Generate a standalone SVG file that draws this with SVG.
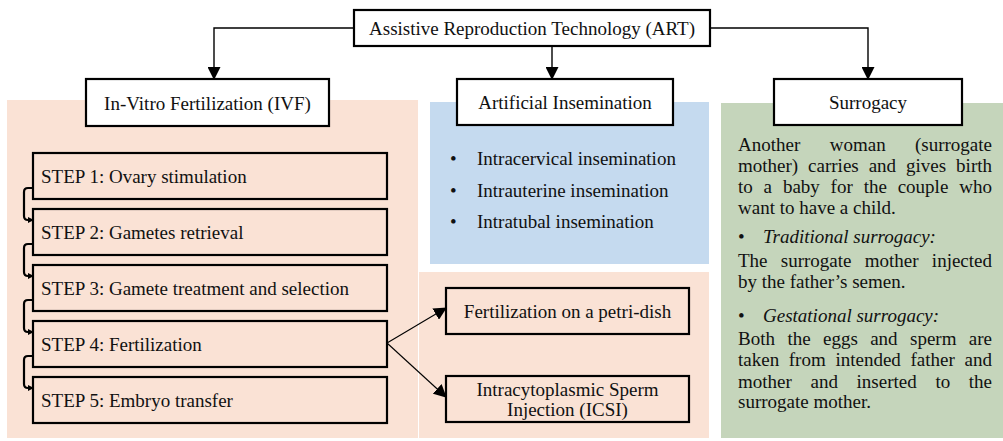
<svg xmlns="http://www.w3.org/2000/svg" width="1003" height="441" viewBox="0 0 1003 441">
<style>
text{font-family:"Liberation Serif","Times New Roman",serif;font-size:19px;fill:#111}
.c{text-anchor:middle}
.e{text-anchor:end}
.i{font-style:italic}
.b{font-size:19px}
.box{fill:#fff;stroke:#000;stroke-width:2.2}
.sbox{fill:none;stroke:#000;stroke-width:2.2}
.ln{fill:none;stroke:#000;stroke-width:1.4}
.st{fill:none;stroke:#000;stroke-width:2.2}
</style>
<defs>
<marker id="ah" markerWidth="13" markerHeight="13" refX="12" refY="6.5" orient="auto" markerUnits="userSpaceOnUse">
<path d="M0,0 L13,6.5 L0,13 Z" fill="#000"/>
</marker>
<marker id="sm" markerWidth="6" markerHeight="6" refX="5" refY="3" orient="auto" markerUnits="userSpaceOnUse">
<path d="M0,0 L6,3 L0,6 Z" fill="#000"/>
</marker>
</defs>
<g id="panels">
<rect x="7" y="100" width="411" height="338" fill="#FAE2D5"/>
<rect x="430" y="102" width="279" height="162" fill="#C5DAEF"/>
<rect x="419" y="272" width="290" height="166" fill="#FAE2D5"/>
<rect x="721" y="103" width="282" height="335" fill="#C5D5BB"/>
</g>
<g id="connectors">
<path class="ln" d="M354,28 H214 V79" marker-end="url(#ah)"/>
<path class="ln" d="M552,46 V79" marker-end="url(#ah)"/>
<path class="ln" d="M710,28 H868 V79" marker-end="url(#ah)"/>
<path class="st" d="M33,188 H28 Q24,188 24,192 V216 Q24,220 28,220 H33" marker-end="url(#sm)"/>
<path class="st" d="M33,244 H28 Q24,244 24,248 V272 Q24,276 28,276 H33" marker-end="url(#sm)"/>
<path class="st" d="M33,300 H28 Q24,300 24,304 V328 Q24,332 28,332 H33" marker-end="url(#sm)"/>
<path class="st" d="M33,356 H28 Q24,356 24,360 V384 Q24,388 28,388 H33" marker-end="url(#sm)"/>
<path class="ln" d="M387,343 L446,308" marker-end="url(#ah)" style="stroke-width:1.1"/>
<path class="ln" d="M387,343 L446,397" marker-end="url(#ah)" style="stroke-width:1.1"/>
</g>
<g id="art">
<rect class="box" x="354" y="10" width="356" height="36"/>
<text class="c" x="532" y="34.5">Assistive Reproduction Technology (ART)</text>
</g>
<g id="ivf">
<rect class="box" x="86" y="79" width="243" height="47"/>
<text class="c" x="207.5" y="109.5">In-Vitro Fertilization (IVF)</text>
</g>
<g id="ai">
<rect class="box" x="457" y="79" width="216" height="46"/>
<text class="c" x="565" y="109">Artificial Insemination</text>
</g>
<g id="surrogacy">
<rect class="box" x="774" y="79" width="188" height="46"/>
<text class="c" x="868" y="109">Surrogacy</text>
</g>
<g id="step1">
<rect class="sbox" x="33" y="153" width="354" height="46"/>
<text x="41" y="182.5">STEP 1: Ovary stimulation</text>
</g>
<g id="step2">
<rect class="sbox" x="33" y="209" width="354" height="46"/>
<text x="41" y="238.5">STEP 2: Gametes retrieval</text>
</g>
<g id="step3">
<rect class="sbox" x="33" y="265" width="354" height="46"/>
<text x="41" y="294.5">STEP 3: Gamete treatment and selection</text>
</g>
<g id="step4">
<rect class="sbox" x="33" y="321" width="354" height="46"/>
<text x="41" y="350.5">STEP 4: Fertilization</text>
</g>
<g id="step5">
<rect class="sbox" x="33" y="377" width="354" height="46"/>
<text x="41" y="406.5">STEP 5: Embryo transfer</text>
</g>
<g id="petri">
<rect class="sbox" x="446" y="288" width="243" height="46"/>
<text class="c" x="567.5" y="317.5">Fertilization on a petri-dish</text>
</g>
<g id="icsi">
<rect class="sbox" x="446" y="376" width="243" height="46"/>
<text class="c" x="567.5" y="396">Intracytoplasmic Sperm</text>
<text class="c" x="567.5" y="416">Injection (ICSI)</text>
</g>
<g id="ai-list">
<text class="b" x="450" y="165">•</text><text x="477" y="165">Intracervical insemination</text>
<text class="b" x="450" y="197">•</text><text x="477" y="197">Intrauterine insemination</text>
<text class="b" x="450" y="228">•</text><text x="477" y="228">Intratubal insemination</text>
</g>
<g id="surrogacy-text">
<text x="738" y="151">Another</text><text x="829.8" y="151">woman</text><text class="e" x="992" y="151">(surrogate</text>
<text x="738" y="172">mother)</text><text x="808.1" y="172">carries</text><text x="868.7" y="172">and</text><text x="906.1" y="172">gives</text><text class="e" x="992" y="172">birth</text>
<text x="738" y="193">to</text><text x="763.6" y="193">a</text><text x="782.9" y="193">baby</text><text x="830.6" y="193">for</text><text x="863.7" y="193">the</text><text x="897.7" y="193">couple</text><text class="e" x="992" y="193">who</text>
<text x="738" y="214">want to have a child.</text>
<text class="b" x="738" y="243">•</text><text class="i" x="763" y="243">Traditional surrogacy:</text>
<text x="738" y="267">The</text><text x="780.8" y="267">surrogate</text><text x="864.8" y="267">mother</text><text class="e" x="992" y="267">injected</text>
<text x="738" y="288">by the father’s semen.</text>
<text class="b" x="738" y="322">•</text><text class="i" x="763" y="322">Gestational surrogacy:</text>
<text x="738" y="345">Both</text><text x="787.4" y="345">the</text><text x="823" y="345">eggs</text><text x="870.2" y="345">and</text><text x="910" y="345">sperm</text><text class="e" x="992" y="345">are</text>
<text x="738" y="366">taken</text><text x="788.8" y="366">from</text><text x="835.4" y="366">intended</text><text x="910.5" y="366">father</text><text class="e" x="992" y="366">and</text>
<text x="738" y="388">mother</text><text x="810.5" y="388">and</text><text x="856.6" y="388">inserted</text><text x="935.4" y="388">to</text><text class="e" x="992" y="388">the</text>
<text x="738" y="408">surrogate mother.</text>
</g>
</svg>
